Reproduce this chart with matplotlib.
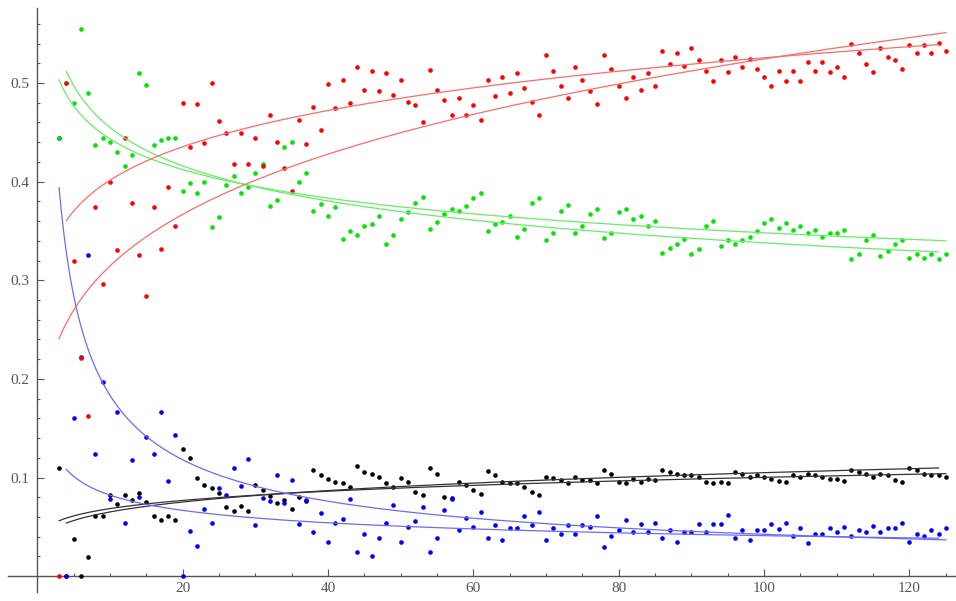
import numpy as np
import matplotlib
matplotlib.use("Agg")
import matplotlib.pyplot as plt
from matplotlib.ticker import FixedLocator, FixedFormatter

# x runs 3..125, one point per series at each integer
x = np.arange(3, 126)

red = [0.000, 0.500, 0.320, 0.221, 0.162, 0.374, 0.296, 0.400, 0.331, 0.444,
       0.378, 0.326, 0.284, 0.374, 0.332, 0.395, 0.355, 0.480, 0.435, 0.479,
       0.439, 0.500, 0.461, 0.449, 0.418, 0.449, 0.418, 0.444, 0.416, 0.468,
       0.440, 0.414, 0.391, 0.462, 0.438, 0.476, 0.452, 0.499, 0.475, 0.503,
       0.480, 0.516, 0.493, 0.512, 0.492, 0.510, 0.488, 0.503, 0.481, 0.478,
       0.460, 0.513, 0.493, 0.483, 0.468, 0.485, 0.468, 0.478, 0.462, 0.503,
       0.487, 0.506, 0.490, 0.510, 0.495, 0.481, 0.468, 0.528, 0.512, 0.497,
       0.485, 0.516, 0.503, 0.492, 0.479, 0.528, 0.514, 0.497, 0.485, 0.506,
       0.493, 0.510, 0.497, 0.532, 0.519, 0.530, 0.517, 0.535, 0.523, 0.512,
       0.502, 0.523, 0.511, 0.526, 0.516, 0.524, 0.514, 0.506, 0.497, 0.512,
       0.502, 0.512, 0.502, 0.521, 0.512, 0.521, 0.511, 0.516, 0.506, 0.540,
       0.530, 0.519, 0.511, 0.535, 0.526, 0.523, 0.514, 0.539, 0.530, 0.539,
       0.530, 0.541, 0.532]

green = [0.444, 0.500, 0.480, 0.555, 0.490, 0.437, 0.444, 0.440, 0.430, 0.416,
         0.427, 0.510, 0.498, 0.437, 0.442, 0.444, 0.444, 0.390, 0.399, 0.388,
         0.400, 0.354, 0.364, 0.397, 0.406, 0.388, 0.395, 0.409, 0.418, 0.375,
         0.381, 0.435, 0.440, 0.400, 0.409, 0.370, 0.377, 0.365, 0.374, 0.342,
         0.350, 0.346, 0.355, 0.357, 0.365, 0.337, 0.346, 0.362, 0.369, 0.378,
         0.384, 0.352, 0.359, 0.367, 0.372, 0.370, 0.375, 0.383, 0.388, 0.350,
         0.357, 0.359, 0.365, 0.344, 0.352, 0.378, 0.383, 0.341, 0.348, 0.370,
         0.376, 0.348, 0.355, 0.367, 0.372, 0.343, 0.348, 0.369, 0.372, 0.362,
         0.365, 0.355, 0.360, 0.328, 0.333, 0.337, 0.342, 0.327, 0.332, 0.355,
         0.360, 0.335, 0.341, 0.337, 0.341, 0.344, 0.350, 0.358, 0.362, 0.353,
         0.358, 0.351, 0.355, 0.348, 0.351, 0.344, 0.348, 0.348, 0.351, 0.322,
         0.327, 0.341, 0.346, 0.325, 0.330, 0.337, 0.341, 0.323, 0.327, 0.323,
         0.327, 0.322, 0.327]

blue = [0.444, 0.000, 0.160, 0.222, 0.326, 0.124, 0.197, 0.078, 0.166, 0.054,
        0.118, 0.080, 0.141, 0.124, 0.166, 0.097, 0.143, 0.000, 0.046, 0.031,
        0.068, 0.054, 0.089, 0.082, 0.110, 0.091, 0.119, 0.052, 0.079, 0.076,
        0.103, 0.074, 0.098, 0.053, 0.077, 0.045, 0.064, 0.035, 0.054, 0.058,
        0.078, 0.025, 0.043, 0.021, 0.039, 0.054, 0.072, 0.035, 0.050, 0.056,
        0.070, 0.025, 0.039, 0.067, 0.078, 0.047, 0.059, 0.050, 0.065, 0.039,
        0.052, 0.037, 0.049, 0.049, 0.061, 0.052, 0.065, 0.037, 0.049, 0.043,
        0.052, 0.043, 0.052, 0.050, 0.061, 0.030, 0.041, 0.047, 0.057, 0.045,
        0.053, 0.045, 0.054, 0.039, 0.047, 0.035, 0.045, 0.045, 0.053, 0.045,
        0.053, 0.053, 0.062, 0.039, 0.047, 0.037, 0.047, 0.047, 0.053, 0.048,
        0.054, 0.041, 0.049, 0.034, 0.043, 0.043, 0.049, 0.045, 0.050, 0.041,
        0.047, 0.045, 0.051, 0.045, 0.049, 0.049, 0.054, 0.035, 0.043, 0.041,
        0.047, 0.043, 0.049]

black = [0.110, 0.000, 0.038, 0.000, 0.019, 0.061, 0.061, 0.082, 0.073, 0.082,
         0.077, 0.084, 0.075, 0.061, 0.057, 0.061, 0.057, 0.129, 0.120, 0.100,
         0.092, 0.089, 0.084, 0.070, 0.066, 0.071, 0.066, 0.092, 0.087, 0.081,
         0.074, 0.077, 0.068, 0.080, 0.076, 0.108, 0.103, 0.099, 0.096, 0.094,
         0.090, 0.112, 0.106, 0.104, 0.101, 0.094, 0.090, 0.100, 0.096, 0.085,
         0.082, 0.110, 0.104, 0.080, 0.079, 0.096, 0.092, 0.087, 0.083, 0.107,
         0.103, 0.096, 0.094, 0.094, 0.090, 0.085, 0.082, 0.101, 0.100, 0.098,
         0.094, 0.101, 0.098, 0.098, 0.094, 0.108, 0.104, 0.096, 0.094, 0.099,
         0.096, 0.099, 0.098, 0.108, 0.106, 0.104, 0.103, 0.103, 0.101, 0.096,
         0.094, 0.096, 0.094, 0.106, 0.104, 0.101, 0.103, 0.101, 0.099, 0.097,
         0.096, 0.103, 0.101, 0.104, 0.103, 0.101, 0.099, 0.099, 0.097, 0.108,
         0.106, 0.104, 0.101, 0.104, 0.103, 0.098, 0.096, 0.110, 0.108, 0.104,
         0.103, 0.103, 0.101]

x_ticks = [20, 40, 60, 80, 100, 120]
y_ticks = [0.1, 0.2, 0.3, 0.4, 0.5]

series = [("black", black, "#000000", "#333333"),
          ("blue", blue, "#0000ff", "#6a6aff"),
          ("green", green, "#00e600", "#66ee66"),
          ("red", red, "#ff0000", "#ff6a6a")]


def power_fit(xs, ys):
    # least squares for y = a * x**b, scan b, solve a linearly
    best = None
    for b in np.linspace(-1.5, 1.0, 2501):
        f = xs ** b
        a = (ys @ f) / (f @ f)
        sse = ((ys - a * f) ** 2).sum()
        if best is None or sse < best[0]:
            best = (sse, a, b)
    return best[1], best[2]


fig = plt.figure(figsize=(9.56, 6.01), dpi=100)
ax = fig.add_axes([8 / 956, 9 / 601, 948 / 956, 584 / 601])
ax.set_xlim(-4.03, 126.4)
ax.set_ylim(-0.016, 0.576)

for name, vals, col, lcol in series:
    vals = np.asarray(vals, dtype=float)
    ax.scatter(x, vals, s=11, color=col, linewidths=0, zorder=3)

for name, vals, col, lcol in series:
    vals = np.asarray(vals, dtype=float)
    # separate fits for odd and even x
    for parity in (1, 0):
        m = (x % 2) == parity
        a, b = power_fit(x[m].astype(float), vals[m])
        xx = np.linspace(x[m].min(), x[m].max(), 400)
        ax.plot(xx, a * xx ** b, color=lcol, lw=0.9, zorder=4)

for s in ("top", "right"):
    ax.spines[s].set_visible(False)
ax.spines["left"].set_position(("data", 0))
ax.spines["bottom"].set_position(("data", 0))
for s in ("left", "bottom"):
    ax.spines[s].set_color("#555555")
    ax.spines[s].set_linewidth(1.0)

ax.xaxis.set_major_locator(FixedLocator(x_ticks))
ax.xaxis.set_major_formatter(FixedFormatter([str(t) for t in x_ticks]))
ax.xaxis.set_minor_locator(FixedLocator([t for t in range(5, 126, 5) if t % 20]))
ax.yaxis.set_major_locator(FixedLocator(y_ticks))
ax.yaxis.set_major_formatter(FixedFormatter([f"{t:.1f}" for t in y_ticks]))
ax.yaxis.set_minor_locator(FixedLocator([round(0.02 * i, 2) for i in range(1, 29) if i % 5]))

ax.tick_params(which="both", direction="in", color="#555555", width=0.8)
ax.tick_params(which="major", length=5)
ax.tick_params(which="minor", length=2.5)
ax.tick_params(axis="x", which="major", pad=4)
ax.tick_params(axis="y", which="major", pad=6)
for lab in ax.get_xticklabels() + ax.get_yticklabels():
    lab.set_fontfamily("Liberation Serif")
    lab.set_fontsize(11)
    lab.set_color("#555555")

fig.savefig("out.png", dpi=100)
